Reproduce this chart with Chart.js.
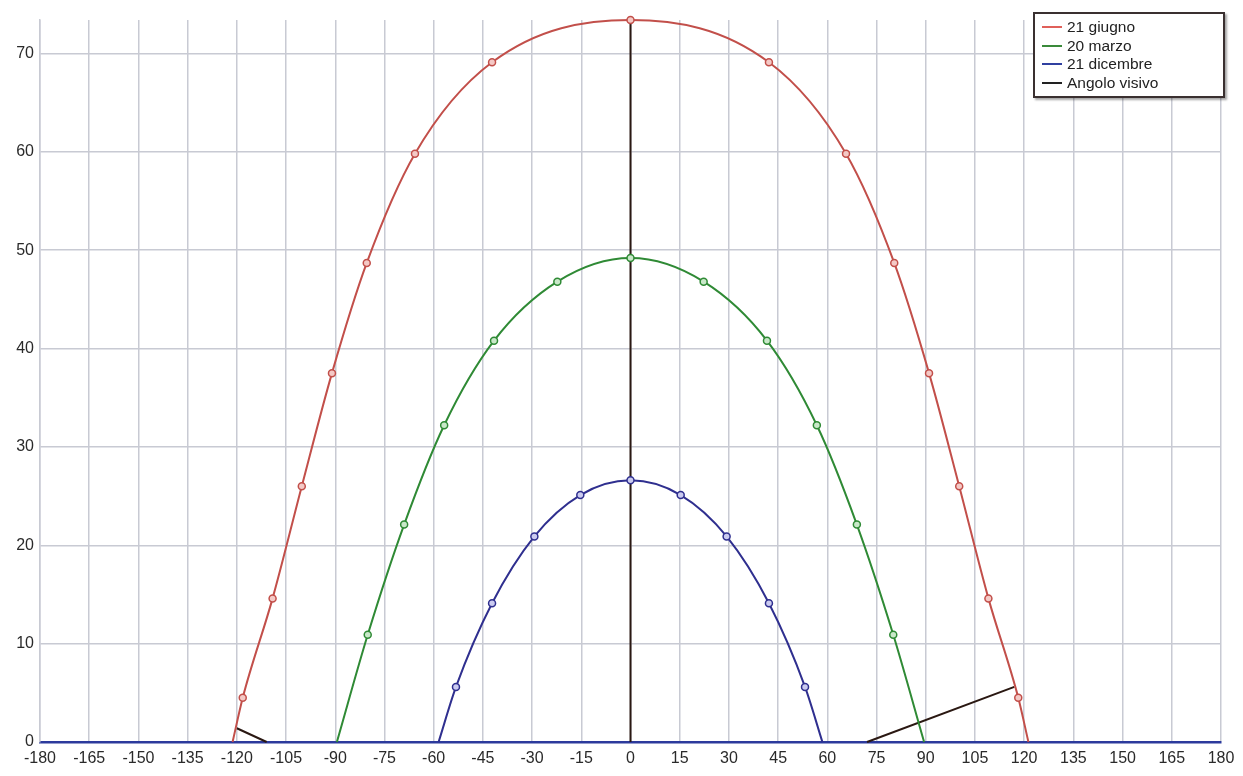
<!DOCTYPE html>
<html>
<head>
<meta charset="utf-8">
<script src="https://cdn.jsdelivr.net/npm/chart.js@4.4.1/dist/chart.umd.min.js"></script>
<style>
    html, body { margin: 0; padding: 0; background: #fff; }
    #wrap { position: relative; width: 1243px; height: 776px; }
    #legenda {
        position: absolute; left: 1033px; top: 12px; width: 188px;
        border: 2px solid #3a3030; box-shadow: 2px 2px 2px rgba(0,0,0,0.35);
        background: #fff; padding: 4px 0 4px 0;
        font: 15.5px "Liberation Sans", Arial, sans-serif; color: #222;
    }
    .voce { display: flex; align-items: center; height: 18.5px; padding-left: 7px; }
    .voce .l { display: inline-block; width: 20px; height: 2px; margin-right: 5px; }
</style>
</head>
<body>
<div id="wrap">
    <canvas id="grafico" width="1243" height="776"></canvas>
    <div id="legenda"></div>
</div>
<script>
// Azimut (gradi, 0 = sud) e altezza solare
var giugnoAz  = [-121.3, -118.2, -109.1, -100.2, -91.0, -80.4, -65.7, -42.2, 0, 42.2, 65.7, 80.4, 91.0, 100.2, 109.1, 118.2, 121.3];
var giugnoAlt = [0, 4.5, 14.6, 26.0, 37.5, 48.7, 59.8, 69.1, 73.4, 69.1, 59.8, 48.7, 37.5, 26.0, 14.6, 4.5, 0];

var marzoAz  = [-89.5, -80.1, -69.0, -56.8, -41.6, -22.3, 0, 22.3, 41.6, 56.8, 69.0, 80.1, 89.5];
var marzoAlt = [0, 10.9, 22.1, 32.2, 40.8, 46.8, 49.2, 46.8, 40.8, 32.2, 22.1, 10.9, 0];

var dicembreAz  = [-58.5, -53.2, -42.2, -29.3, -15.3, 0, 15.3, 29.3, 42.2, 53.2, 58.5];
var dicembreAlt = [0, 5.6, 14.1, 20.9, 25.1, 26.6, 25.1, 20.9, 14.1, 5.6, 0];

// Angolo visivo: tre tratti separati da null
var angoloAz  = [-120.0, -110.9, null, 0, 0, null, 72.1, 117.0];
var angoloAlt = [1.4, 0, null, 0, 73.4, null, 0, 5.6];

var etichetteX = [-180, -165, -150, -135, -120, -105, -90, -75, -60, -45, -30, -15, 0, 15, 30, 45, 60, 75, 90, 105, 120, 135, 150, 165, 180];
var etichetteY = [0, 10, 20, 30, 40, 50, 60, 70];

function punti(az, alt) {
    return az.map(function (a, i) {
        if (a === null) return { x: 0, y: null };
        return { x: a, y: alt[i] };
    });
}

// niente marker sui punti di alba e tramonto
function raggio(ctx) {
    var n = ctx.dataset.data.length;
    return (ctx.dataIndex === 0 || ctx.dataIndex === n - 1) ? 0 : 3.5;
}

var serie = [
    { label: '21 giugno', data: punti(giugnoAz, giugnoAlt), borderColor: '#c24f4a', pointBackgroundColor: '#f4c9c6', legenda: '#e0605a' },
    { label: '20 marzo', data: punti(marzoAz, marzoAlt), borderColor: '#2f8a35', pointBackgroundColor: '#c9e8c9', legenda: '#3a8a3a' },
    { label: '21 dicembre', data: punti(dicembreAz, dicembreAlt), borderColor: '#2f2f8f', pointBackgroundColor: '#cbcbf0', legenda: '#3040a0' }
];

var datasets = serie.map(function (s) {
    return {
        label: s.label,
        data: s.data,
        showLine: true,
        borderColor: s.borderColor,
        borderWidth: 2,
        pointRadius: raggio,
        pointBorderColor: s.borderColor,
        pointBackgroundColor: s.pointBackgroundColor,
        pointBorderWidth: 1.5,
        cubicInterpolationMode: 'monotone',
        clip: false,
        legenda: s.legenda
    };
});

datasets.push({
    label: 'Angolo visivo',
    data: punti(angoloAz, angoloAlt),
    showLine: true,
    borderColor: '#2a1812',
    borderWidth: 2,
    pointRadius: 0,
    tension: 0,
    spanGaps: false,
    clip: false,
    legenda: '#222222'
});

var ctx = document.getElementById('grafico').getContext('2d');
var grafico = new Chart(ctx, {
    type: 'scatter',
    data: { datasets: datasets },
    options: {
        responsive: false,
        animation: false,
        devicePixelRatio: 1,
        layout: { padding: { left: 0, right: 22, top: 20, bottom: 0 } },
        plugins: {
            legend: { display: false },
            tooltip: { enabled: false }
        },
        scales: {
            x: {
                type: 'linear',
                min: -180,
                max: 180,
                afterBuildTicks: function (scale) {
                    scale.ticks = etichetteX.map(function (v) { return { value: v }; });
                },
                afterFit: function (scale) { scale.height = 34; },
                grid: { color: '#c8cad3', lineWidth: 1.5, drawTicks: false },
                border: { color: '#2c3a9c', width: 2.5 },
                ticks: {
                    autoSkip: false,
                    maxRotation: 0,
                    padding: 7,
                    color: '#2a2a2a',
                    font: { family: '"Liberation Sans", Arial, sans-serif', size: 16 }
                }
            },
            y: {
                type: 'linear',
                min: 0,
                max: 73.4,
                afterBuildTicks: function (scale) {
                    scale.ticks = etichetteY.map(function (v) { return { value: v }; });
                },
                afterFit: function (scale) { scale.width = 40; },
                grid: { color: '#c8cad3', lineWidth: 1.5, drawTicks: false },
                border: { color: '#c8cad3', width: 1.5 },
                ticks: {
                    padding: 6,
                    color: '#2a2a2a',
                    font: { family: '"Liberation Sans", Arial, sans-serif', size: 16 }
                }
            }
        }
    }
});

// legenda in HTML, costruita dai dataset
var box = document.getElementById('legenda');
grafico.data.datasets.forEach(function (d) {
    var riga = document.createElement('div');
    riga.className = 'voce';
    var linea = document.createElement('span');
    linea.className = 'l';
    linea.style.background = d.legenda;
    riga.appendChild(linea);
    riga.appendChild(document.createTextNode(d.label));
    box.appendChild(riga);
});
</script>
</body>
</html>
